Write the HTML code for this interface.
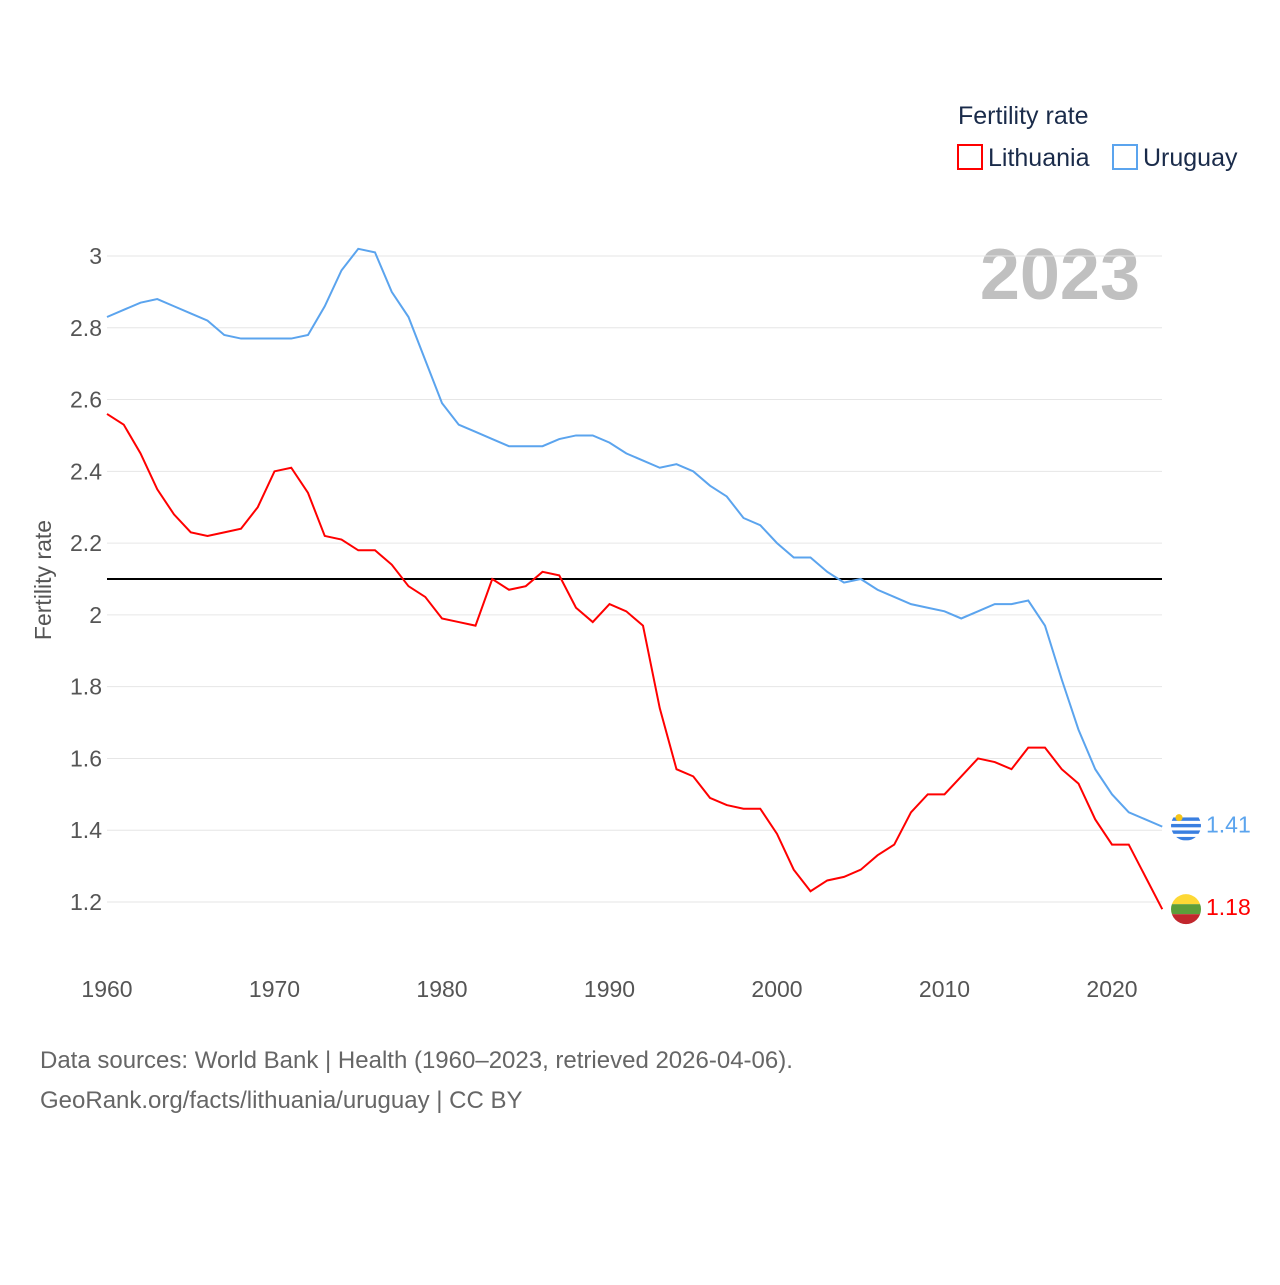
<!DOCTYPE html>
<html><head><meta charset="utf-8"><style>
body{margin:0;background:#fff;font-family:"Liberation Sans",sans-serif;}
svg text{font-family:"Liberation Sans",sans-serif;}
</style></head><body>
<svg id="chart" width="1280" height="1280">
<defs>
<clipPath id="cu"><circle id="cuc" cx="1186" cy="826" r="15"/></clipPath>
<clipPath id="cl"><circle id="clc" cx="1186" cy="909" r="15"/></clipPath>
</defs>
<text x="958" y="124" font-size="25" fill="#1a2b4a">Fertility rate</text>
<g><rect x="958" y="145" width="24" height="24" fill="none" stroke="#f00" stroke-width="2"/><text x="988" y="166" font-size="25" fill="#1a2b4a">Lithuania</text></g>
<g><rect x="1113" y="145" width="24" height="24" fill="none" stroke="#5ba4ee" stroke-width="2"/><text x="1143" y="166" font-size="25" fill="#1a2b4a">Uruguay</text></g>
<text x="1140" y="299" font-size="72" font-weight="bold" fill="#c0c0c0" text-anchor="end">2023</text>
<text transform="translate(51,580) rotate(-90)" font-size="23" fill="#555" text-anchor="middle">Fertility rate</text>
<g id="grid"></g><g id="lines"></g>
<text x="40" y="1068" font-size="24" fill="#666">Data sources: World Bank | Health (1960–2023, retrieved 2026-04-06).</text>
<text x="40" y="1108" font-size="24" fill="#666">GeoRank.org/facts/lithuania/uruguay | CC BY</text>
</svg>
<script>
const years=[];for(let y=1960;y<=2023;y++)years.push(y);
const lithuania=[2.56,2.53,2.45,2.35,2.28,2.23,2.22,2.23,2.24,2.30,2.40,2.41,2.34,2.22,2.21,2.18,2.18,2.14,2.08,2.05,1.99,1.98,1.97,2.10,2.07,2.08,2.12,2.11,2.02,1.98,2.03,2.01,1.97,1.74,1.57,1.55,1.49,1.47,1.46,1.46,1.39,1.29,1.23,1.26,1.27,1.29,1.33,1.36,1.45,1.50,1.50,1.55,1.60,1.59,1.57,1.63,1.63,1.57,1.53,1.43,1.36,1.36,1.27,1.18];
const uruguay=[2.83,2.85,2.87,2.88,2.86,2.84,2.82,2.78,2.77,2.77,2.77,2.77,2.78,2.86,2.96,3.02,3.01,2.90,2.83,2.71,2.59,2.53,2.51,2.49,2.47,2.47,2.47,2.49,2.50,2.50,2.48,2.45,2.43,2.41,2.42,2.40,2.36,2.33,2.27,2.25,2.20,2.16,2.16,2.12,2.09,2.10,2.07,2.05,2.03,2.02,2.01,1.99,2.01,2.03,2.03,2.04,1.97,1.82,1.68,1.57,1.50,1.45,1.43,1.41];
const yTicks=[1.2,1.4,1.6,1.8,2,2.2,2.4,2.6,2.8,3];
const xTicks=[1960,1970,1980,1990,2000,2010,2020];
const refLine=[2.1];
const X=y=>107+(y-1960)*1005/60;
const Y=v=>256+(3-v)*646/1.8;
const NS="http://www.w3.org/2000/svg";
const g=document.getElementById('grid'),L=document.getElementById('lines');
function mk(tag,at,par){const e=document.createElementNS(NS,tag);for(const k in at)e.setAttribute(k,at[k]);par.appendChild(e);return e;}
yTicks.forEach(v=>{
 const l=mk('line',{x1:107,x2:1162,y1:Y(v),y2:Y(v),stroke:'#e6e6e6','stroke-width':1},g);
 
 
 const t=mk('text',{x:102,y:Y(v)+8,'font-size':23,fill:'#555','text-anchor':'end'},g);t.textContent=String(v);
 
 
});
xTicks.forEach(v=>{
 const t=mk('text',{x:X(v),y:997,'font-size':23,fill:'#555','text-anchor':'middle'},g);t.textContent=v;
 
 
});
const rl=mk('line',{x1:107,x2:1162,y1:Y(refLine[0]),y2:Y(refLine[0]),stroke:'#000','stroke-width':2},L);


function series(vals,col,name){
 const p=mk('polyline',{points:vals.map((v,i)=>X(years[i])+','+Y(v)).join(' '),fill:'none',stroke:col,'stroke-width':2},L);
 
 
 const last=vals[vals.length-1],yy=Y(last);
 const t=mk('text',{x:1206,y:yy+6,'font-size':23,fill:col},L);t.textContent=last.toFixed(2);
 
 
 return yy;
}
const yu=series(uruguay,'#5ba4ee','uruguay')-1;
const yl=series(lithuania,'#f00','lithuania');
document.getElementById('cuc').setAttribute('cy',yu);
document.getElementById('clc').setAttribute('cy',yl);
const fu=mk('g',{'clip-path':'url(#cu)'},L);


mk('rect',{x:1170,y:yu-16,width:32,height:32,fill:'#fff'},fu);
[-6.5,0,6.5,13].forEach(d=>mk('rect',{x:1170,y:yu+d-1.7,width:32,height:3.4,fill:'#3a7fe0'},fu));
mk('circle',{cx:1179,cy:yu-8,r:3.5,fill:'#f5c518'},fu);
const fl=mk('g',{'clip-path':'url(#cl)'},L);


mk('rect',{x:1170,y:yl-16,width:32,height:11,fill:'#fdd835'},fl);
mk('rect',{x:1170,y:yl-5,width:32,height:10,fill:'#5c9e3a'},fl);
mk('rect',{x:1170,y:yl+5,width:32,height:11,fill:'#c1272d'},fl);
</script>
</body></html>
